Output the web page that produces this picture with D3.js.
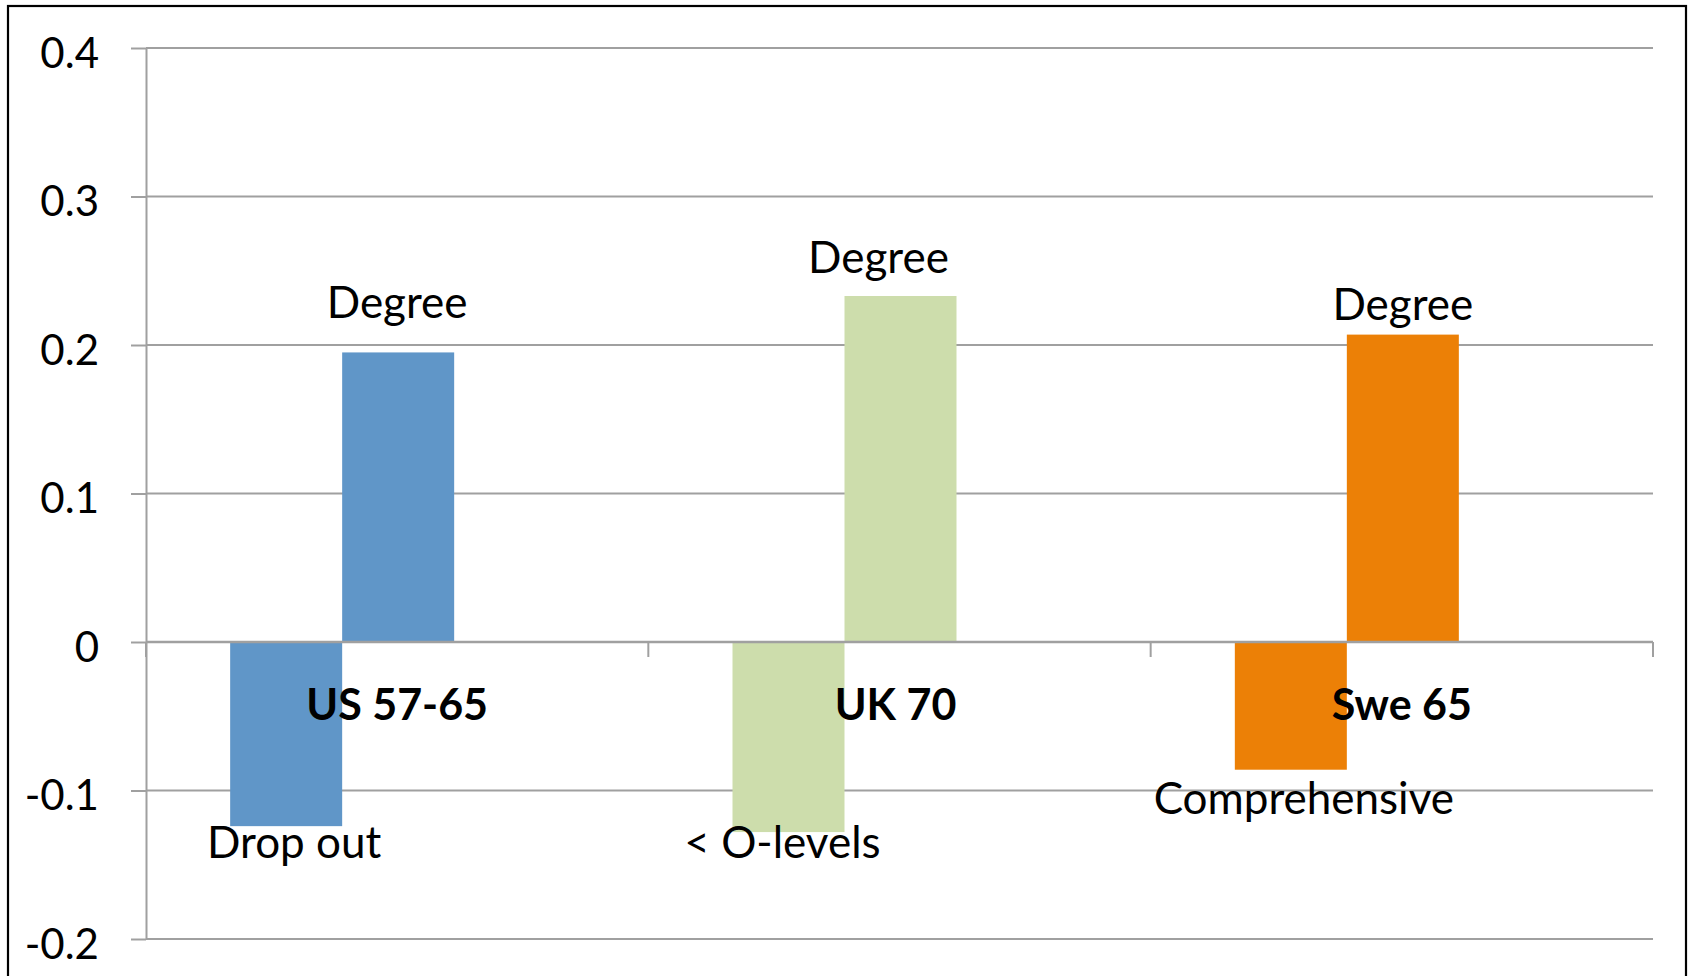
<!DOCTYPE html>
<html>
<head>
<meta charset="utf-8">
<script src="https://cdn.jsdelivr.net/npm/d3@7"></script>
<style>
  html, body { margin: 0; padding: 0; background: #fff; }
  svg { display: block; }
  text { font-family: Lato, "Open Sans", sans-serif; fill: #000; }
</style>
</head>
<body>
<svg id="chart" width="1688" height="976"></svg>
<script>
// Cohorts and their education effects
const categories = ["US 57-65", "UK 70", "Swe 65"];
const lowLabels  = ["Drop out", "< O-levels", "Comprehensive"];
const lowValues  = [-0.124, -0.128, -0.086];
const highLabel  = "Degree";
const highValues = [0.195, 0.233, 0.207];
const colors     = ["#6096C8", "#CDDDAC", "#EC8006"];
const yTicks     = [-0.2, -0.1, 0, 0.1, 0.2, 0.3, 0.4];
const yTickText  = ["-0.2", "-0.1", "0", "0.1", "0.2", "0.3", "0.4"];

// Hand-placed label nudges (px): [dx, dy from bar end to baseline]
const highLabelNudge = [[-1, -34], [-22, -23], [0, -15]];
const lowLabelNudge  = [[8, 32], [-6, 26], [13, 44]];
const categoryNudge  = [0, -4, 0];

const W = 1688, H = 976;
const plot = { left: 146, right: 1653, top: 48, bottom: 939 };
const gridColor = "#A0A0A0";
const labelSize = 44;   // data labels
const tickSize = 42;    // axis numbers
const catSize = 43;     // bold category names

const svg = d3.select("#chart");

// outer frame
svg.append("rect")
  .attr("x", 8).attr("y", 6)
  .attr("width", 1678).attr("height", 1010)
  .attr("fill", "none").attr("stroke", "#000").attr("stroke-width", 2.2);

const y = d3.scaleLinear().domain([-0.2, 0.4]).range([plot.bottom, plot.top]);
const x0 = d3.scaleBand().domain(categories).range([plot.left, plot.right]).padding(0);

// three series slots per category with Excel-style gap; only the first two carry bars
const barW = x0.bandwidth() / 4.485;
const gap = x0.bandwidth() - 3 * barW;
const x1 = d3.scaleBand().domain(["low", "high"])
  .range([gap / 2 + 1, gap / 2 + 1 + 2 * barW]).padding(0);

// horizontal gridlines
svg.append("g").selectAll("line")
  .data(yTicks.filter(v => v !== 0))
  .join("line")
  .attr("x1", plot.left).attr("x2", plot.right)
  .attr("y1", d => y(d)).attr("y2", d => y(d))
  .attr("stroke", gridColor).attr("stroke-width", 2);

// bars
const groups = svg.append("g").selectAll("g")
  .data(categories.map((c, i) => ({ c, i })))
  .join("g")
  .attr("transform", d => `translate(${x0(d.c)},0)`);

groups.append("rect")
  .attr("x", x1("low")).attr("width", x1.bandwidth())
  .attr("y", y(0)).attr("height", d => y(lowValues[d.i]) - y(0))
  .attr("fill", d => colors[d.i]);

groups.append("rect")
  .attr("x", x1("high")).attr("width", x1.bandwidth())
  .attr("y", d => y(highValues[d.i])).attr("height", d => y(0) - y(highValues[d.i]))
  .attr("fill", d => colors[d.i]);

// y axis
const yAxis = d3.axisLeft(y)
  .tickValues(yTicks)
  .tickFormat((d, i) => yTickText[i])
  .tickSize(15).tickSizeOuter(0).tickPadding(32);

const ya = svg.append("g")
  .attr("transform", `translate(${plot.left},0)`)
  .call(yAxis);
ya.select(".domain").attr("stroke", gridColor).attr("stroke-width", 2);
ya.selectAll(".tick line").attr("stroke", gridColor).attr("stroke-width", 2);
ya.selectAll(".tick text")
  .attr("dy", 19)
  .style("font-family", "Lato, 'Open Sans', sans-serif")
  .style("font-size", tickSize + "px")
  .attr("fill", "#000");

// zero line (category axis) with ticks between categories
const xa = svg.append("g");
xa.append("line")
  .attr("x1", plot.left).attr("x2", plot.right)
  .attr("y1", y(0)).attr("y2", y(0))
  .attr("stroke", gridColor).attr("stroke-width", 2.4);
const boundaries = categories.map(c => x0(c)).concat([plot.right]);
xa.selectAll("line.tick")
  .data(boundaries)
  .join("line").attr("class", "tick")
  .attr("x1", d => d).attr("x2", d => d)
  .attr("y1", y(0)).attr("y2", y(0) + 15)
  .attr("stroke", gridColor).attr("stroke-width", 2);

// category labels
svg.append("g").selectAll("text")
  .data(categories)
  .join("text")
  .attr("x", (d, i) => x0(d) + x0.bandwidth() / 2 + categoryNudge[i])
  .attr("y", y(0) + 78)
  .attr("text-anchor", "middle")
  .style("font-size", catSize + "px")
  .style("font-weight", "bold")
  .text(d => d);

// data labels above positive bars
groups.append("text")
  .attr("x", d => x1("high") + x1.bandwidth() / 2 + highLabelNudge[d.i][0])
  .attr("y", d => y(highValues[d.i]) + highLabelNudge[d.i][1])
  .attr("text-anchor", "middle")
  .style("font-size", labelSize + "px")
  .text(highLabel);

// data labels below negative bars
groups.append("text")
  .attr("x", d => x1("low") + x1.bandwidth() / 2 + lowLabelNudge[d.i][0])
  .attr("y", d => y(lowValues[d.i]) + lowLabelNudge[d.i][1])
  .attr("text-anchor", "middle")
  .style("font-size", labelSize + "px")
  .text(d => lowLabels[d.i]);
</script>
</body>
</html>
